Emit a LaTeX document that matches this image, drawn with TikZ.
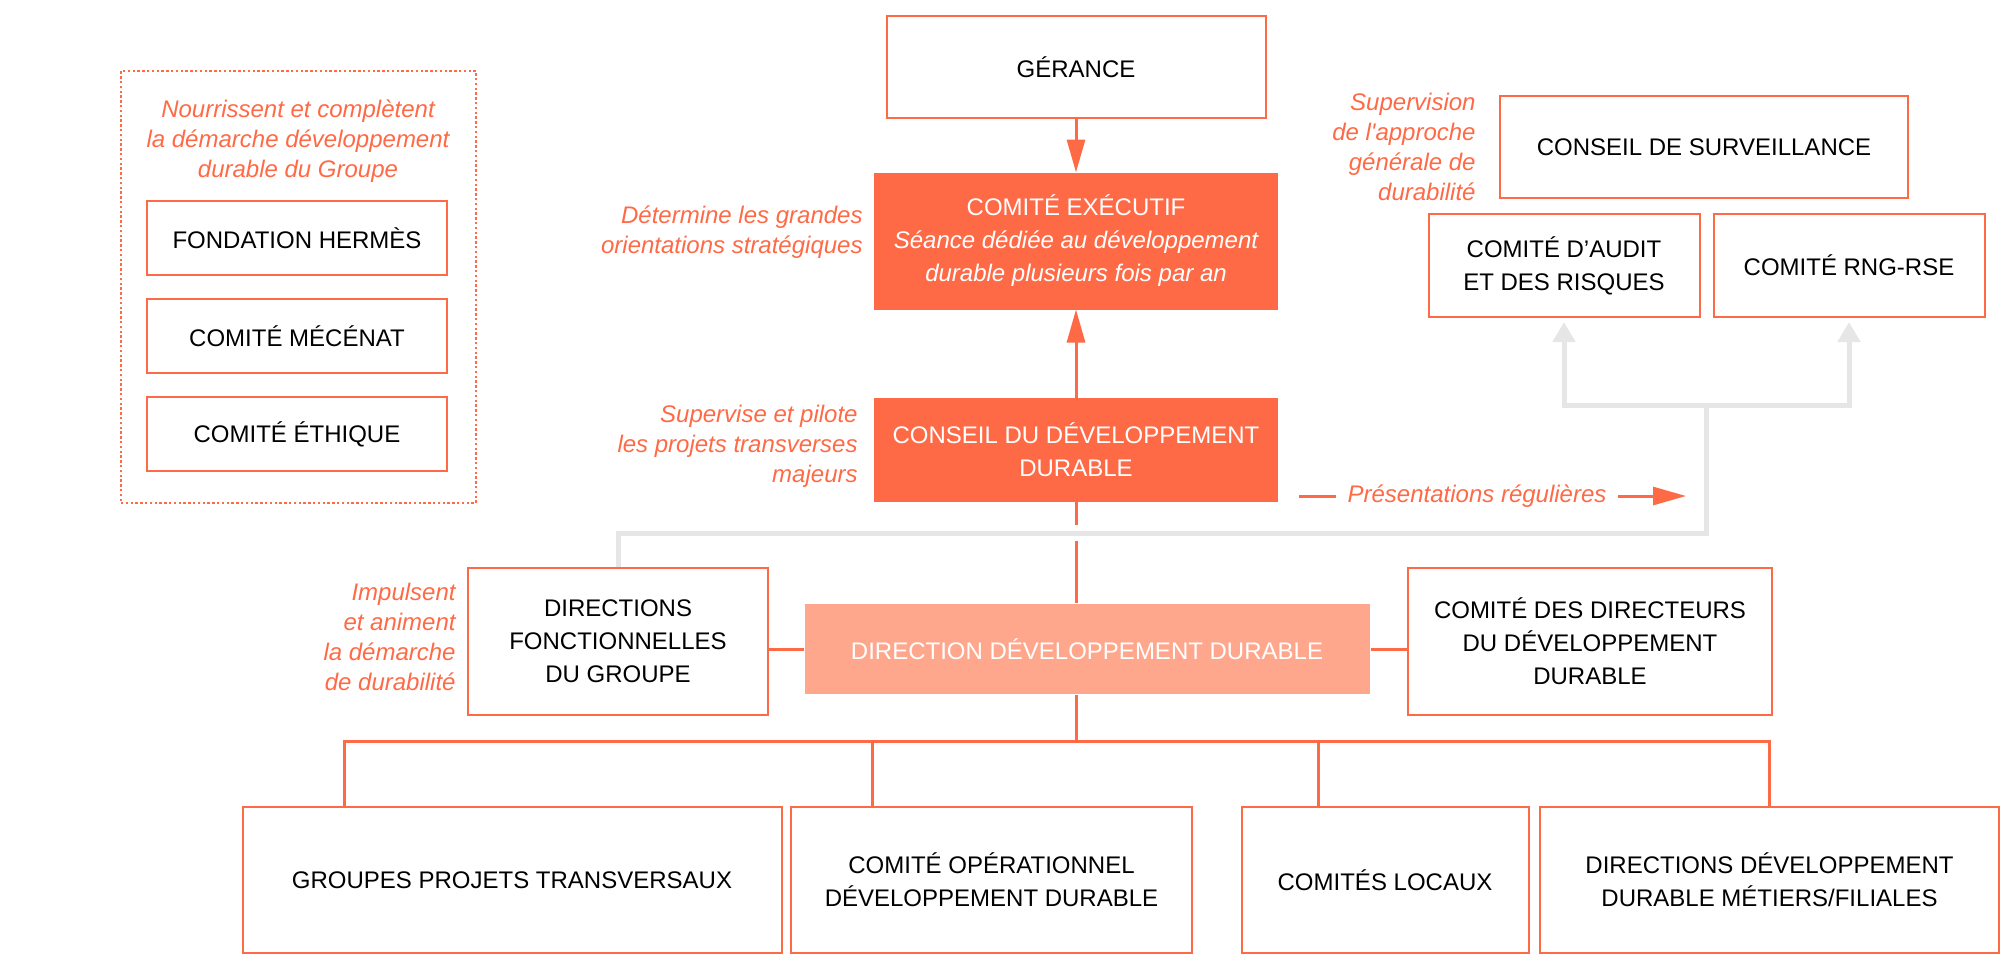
\documentclass[tikz,border=0pt]{standalone}
\usepackage{fontspec}
\setmainfont{Liberation Sans}
\usetikzlibrary{positioning, arrows.meta, calc}
\definecolor{hOrange}{HTML}{FF6A46}
\definecolor{hSalmon}{HTML}{FFA78C}
\definecolor{hGray}{HTML}{E6E6E6}
\tikzset{
  orgbox/.style={draw=hOrange, line width=1pt, fill=white, align=center, inner sep=0pt, font=\fontsize{12}{16.5}\selectfont}, % white box, orange frame
  orgfill/.style={orgbox, fill=hOrange, text=white},
  boxsize/.style 2 args={minimum width=#1*0.5pt, minimum height=#2*0.5pt},
  note/.style={text=hOrange, inner sep=0pt, font=\fontsize{12}{15}\selectfont\itshape},
  oline/.style={draw=hOrange, line width=1.5pt},
  oarrow/.style={oline, -{Triangle[length=16.5pt, width=9pt]}},
  gline/.style={draw=hGray, line width=2.5pt},
  garrow/.style={gline, -{Triangle[length=10pt, width=11pt]}},
}

\begin{document}
\begin{tikzpicture}[x=0.5pt, y=-0.5pt]
	\useasboundingbox (0,0) rectangle (2008,971);

	% main column
	\node[orgbox, boxsize={379}{102}] (gerance) at (1076,67) {GÉRANCE};
	\node[orgfill, boxsize={402}{135}] (comex) at (1076,241) {COMITÉ EXÉCUTIF\\\itshape Séance dédiée au développement\\\itshape durable plusieurs fois par an};
	\node[orgfill, boxsize={402}{102}] (cdd) at (1076,450) {CONSEIL DU DÉVELOPPEMENT\\DURABLE};
	\node[orgbox, fill=hSalmon, text=white, boxsize={565}{90}, draw=none] (ddd) at (1087,649) {DIRECTION DÉVELOPPEMENT DURABLE};
	\node[orgbox, boxsize={300}{147}] (dirfonc) at (618,641) {DIRECTIONS\\FONCTIONNELLES\\DU GROUPE};
	\node[orgbox, boxsize={364}{147}] (cdir) at (1590,641) {COMITÉ DES DIRECTEURS\\DU DÉVELOPPEMENT\\DURABLE};

	% bottom row
	\node[orgbox, boxsize={539}{146}] (gpt) at (512,880) {GROUPES PROJETS TRANSVERSAUX};
	\node[orgbox, boxsize={401}{146}] (cop) at (991.5,880) {COMITÉ OPÉRATIONNEL\\DÉVELOPPEMENT DURABLE};
	\node[orgbox, boxsize={287}{146}] (cloc) at (1385,880) {COMITÉS LOCAUX};
	\node[orgbox, boxsize={459}{146}] (ddmf) at (1769.5,880) {DIRECTIONS DÉVELOPPEMENT\\DURABLE MÉTIERS/FILIALES};

	% supervisory board
	\node[orgbox, boxsize={408}{102}] (csurv) at (1704,147) {CONSEIL DE SURVEILLANCE};
	\node[orgbox, boxsize={271}{103}] (caudit) at (1564,265.5) {COMITÉ D’AUDIT\\ET DES RISQUES};
	\node[orgbox, boxsize={271}{103}, right=6pt of caudit] (crng) {COMITÉ RNG-RSE};

	% foundation column
	\node[orgbox, boxsize={300}{74}] (fond) at (297,238) {FONDATION HERMÈS};
	\node[orgbox, boxsize={300}{74}, below=11pt of fond] (mece) {COMITÉ MÉCÉNAT};
	\node[orgbox, boxsize={300}{74}, below=11pt of mece] (ethi) {COMITÉ ÉTHIQUE};
	\node[draw=hOrange, line width=0.6pt, dash pattern=on 1.2pt off 1.2pt, boxsize={355}{432}] (cadre) at (298.5,287) {};

	% notes
	\node[note, align=center] (nourr) at (298,141) {Nourrissent et complètent\\la démarche développement\\durable du Groupe};
	\node[note, align=right, anchor=east] (detnote) at (863,232) {Détermine les grandes\\orientations stratégiques};
	\node[note, align=right, anchor=east] (supnote) at (858,446) {Supervise et pilote\\les projets transverses\\majeurs};
	\node[note, align=right, anchor=east] (impnote) at (456,637) {Impulsent\\et animent\\la démarche\\de durabilité};
	\node[note, align=right, anchor=east] (survnote) at (1476,147) {Supervision\\de l\textquotesingle approche\\générale de\\durabilité};

	% coordinates of the connectors
	\coordinate (gk) at (1706,533);
	\coordinate (gj) at (1706,405);
	\coordinate (ps) at (1299,496);
	\coordinate (pe) at (1686,496);
	\coordinate (b1) at (344,741);
	\coordinate (b2) at (872,741);
	\coordinate (b3) at (1318,741);
	\coordinate (b4) at (1769,741);

	% orange connectors
	\draw[oarrow] (gerance) -- (comex);
	\draw[oarrow] (cdd) -- (comex);
	\draw[oline, shorten >=4pt] (cdd) -- (cdd |- gk);
	\draw[oline, shorten <=4pt] (cdd |- gk) -- (cdd |- ddd.north);
	\draw[oline] (ddd.west) -- (ddd.west -| dirfonc.east);
	\draw[oline] (ddd.east) -- (ddd.east -| cdir.west);
	\draw[oline] (cdd |- ddd.south) -- (cdd |- b1);
	\draw[oline] (b1 |- gpt.north) -- (b1) -- (b4) -- (b4 |- ddmf.north);
	\draw[oline] (b2) -- (b2 |- cop.north);
	\draw[oline] (b3) -- (b3 |- cloc.north);
	\draw[oarrow] (ps) -- (pe) node[pos=0.46, note, fill=white, inner xsep=6pt, inner ysep=3pt] (pres) {Présentations régulières};

	% gray connectors
	\draw[gline] (dirfonc.north) |- (gk) -- (gj);
	\draw[garrow, shorten >=2pt] (gj) -| (caudit.south);
	\draw[garrow, shorten >=2pt] (gj) -| (crng.south);

\end{tikzpicture}
\end{document}
